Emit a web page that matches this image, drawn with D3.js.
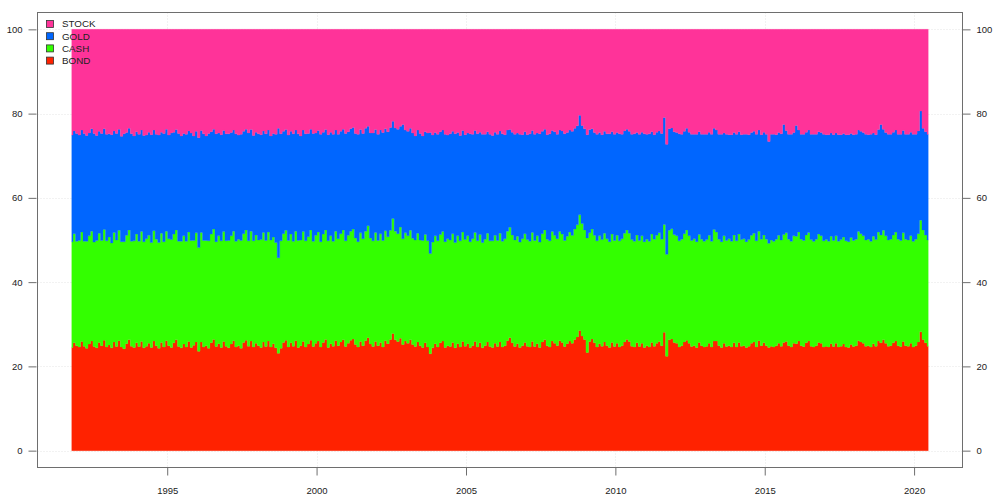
<!DOCTYPE html>
<html>
<head>
<meta charset="utf-8">
<script src="https://cdn.jsdelivr.net/npm/d3@7"></script>
<style>
  html, body { margin: 0; padding: 0; background: #ffffff; }
  svg { display: block; }
  text { font-family: "Liberation Sans", Arial, sans-serif; }
</style>
</head>
<body>
<svg id="chart" width="1000" height="498"></svg>
<script>
// ---- Data: monthly portfolio weights (%) Oct 1991 .. Jun 2020 ----
const seriesNames = ["STOCK", "GOLD", "CASH", "BOND"];
const firstMonth = { year: 1991, month: 9, day: 22 }; // Oct 1991
const yTicks = [0, 20, 40, 60, 80, 100];
const xTickYears = [1995, 2000, 2005, 2010, 2015, 2020];

const bond = [
  24.5, 25.6, 24.9,
  24.6, 25.9, 24.8, 24.3, 25.3, 26.0, 24.7, 24.4, 25.7, 24.9, 26.2, 24.6,
  25.1, 24.4, 25.8, 24.7, 26.1, 24.6, 24.2, 25.4, 26.3, 24.8, 24.5, 25.6,
  24.7, 25.9, 24.4, 24.8, 25.5, 24.5, 26.0, 24.9, 24.3, 25.7, 24.6, 26.1,
  24.9, 24.5, 25.6, 26.3, 24.7, 24.4, 25.3, 24.6, 25.9, 24.5, 25.0, 25.8,
  23.6, 25.8, 24.6, 24.9, 24.3, 25.6, 26.4, 24.7, 25.4, 24.5, 25.9, 24.8,
  24.4, 25.3, 26.1, 24.6, 24.9, 24.3, 25.7, 26.2, 24.8, 26.0, 24.6, 25.5,
  24.9, 24.5, 25.8, 24.7, 26.0, 24.6, 25.4, 24.4, 23.1, 24.3, 25.7, 26.2,
  24.6, 25.6, 24.8, 26.1, 24.5, 24.9, 25.9, 24.6, 25.3, 26.2, 24.7, 25.5,
  26.0, 24.6, 25.7, 26.4, 24.5, 25.4, 24.8, 26.1, 24.9, 25.8, 26.3, 24.7,
  25.5, 26.2, 26.5, 25.2, 24.6, 25.9, 24.9, 26.1, 26.8, 25.3, 24.7, 25.9,
  24.9, 25.7, 24.6, 26.1, 25.4, 26.4, 27.8, 26.3, 25.9, 26.7, 25.2, 26.0,
  25.5, 26.3, 25.2, 24.7, 25.8, 24.9, 24.5, 25.6, 24.6, 23.0, 24.4, 25.4,
  24.6, 25.6, 26.0, 24.5, 24.9, 24.7, 25.7, 24.4, 25.4, 24.6, 25.9, 24.8,
  25.4, 24.5, 24.9, 25.9, 24.6, 25.6, 24.4, 24.9, 25.8, 24.7, 24.5, 25.5,
  24.7, 25.8, 24.6, 24.9, 26.1, 26.8, 25.6, 24.7, 25.4, 24.5, 24.9, 25.7,
  24.8, 24.6, 25.9, 24.7, 25.4, 24.5, 25.8, 26.3, 24.9, 24.6, 26.0, 25.5,
  24.9, 26.1, 25.7, 24.7, 25.4, 26.0, 25.5, 26.4, 27.0, 28.5, 27.2, 26.4,
  23.3, 25.9, 26.5, 25.6, 24.6, 25.4, 24.8, 25.8, 24.9, 24.5, 25.7, 24.7,
  25.5, 24.6, 24.9, 25.8, 26.4, 25.9, 24.8, 24.6, 25.6, 24.7, 25.5, 24.5,
  24.9, 24.6, 25.7, 24.8, 25.5, 25.9, 24.9, 28.1, 22.4, 26.3, 26.5, 25.7,
  25.5, 24.6, 24.9, 25.8, 26.2, 25.5, 24.7, 24.9, 24.5, 25.7, 24.9, 24.6,
  24.8, 25.5, 24.6, 26.0, 26.0, 24.9, 24.5, 25.5, 24.7, 24.9, 24.6, 25.6,
  24.6, 25.7, 24.8, 24.9, 24.5, 24.8, 25.5, 25.8, 24.6, 26.1, 24.9, 25.6,
  24.9, 24.5, 24.8, 24.6, 24.9, 25.5, 24.8, 25.7, 25.9, 24.9, 24.6, 25.5,
  25.4, 26.0, 24.9, 24.7, 25.6, 26.0, 24.8, 24.6, 24.9, 25.7, 25.5, 24.6,
  24.8, 24.6, 25.4, 24.7, 25.5, 24.6, 24.8, 25.3, 24.6, 24.5, 25.2, 24.7,
  24.9, 26.1, 25.8, 25.5, 24.8, 24.9, 24.6, 25.4, 24.8, 26.0, 25.6, 26.3,
  25.5, 24.8, 24.9, 25.6, 26.0, 24.9, 24.7, 25.9, 24.9, 24.8, 25.5, 24.6,
  24.9, 25.8, 28.2, 26.4, 25.6, 24.8
];

const cash = [
  25.1, 25.9, 24.8,
  25.3, 26.0, 24.9, 25.4, 25.7, 26.1, 24.8, 25.5, 25.9, 25.0, 26.3, 25.2,
  25.6, 24.9, 26.0, 25.3, 26.2, 25.0, 25.4, 25.7, 26.1, 24.9, 25.3, 25.8,
  25.0, 26.1, 25.2, 25.5, 25.6, 24.9, 26.2, 25.3, 25.1, 25.9, 25.0, 26.0,
  25.4, 25.6, 25.8, 26.1, 25.0, 25.3, 25.7, 25.1, 26.0, 25.4, 24.9, 25.9,
  24.6, 26.0, 25.3, 25.0, 25.5, 25.8, 26.2, 24.9, 25.6, 25.3, 26.1, 25.0,
  25.5, 25.7, 26.0, 25.1, 25.3, 25.6, 25.8, 26.2, 25.0, 26.1, 25.2, 25.7,
  25.1, 25.6, 26.0, 25.2, 25.9, 25.4, 25.3, 25.0, 22.7, 25.5, 25.8, 26.1,
  25.3, 25.8, 24.9, 26.0, 25.4, 25.1, 26.1, 25.2, 25.5, 26.2, 25.0, 25.6,
  25.9, 25.0, 25.7, 26.0, 25.3, 25.6, 24.9, 26.0, 25.4, 25.7, 26.1, 25.1,
  25.6, 25.9, 26.1, 25.3, 25.0, 25.8, 25.4, 26.0, 26.6, 25.2, 25.1, 25.9,
  25.0, 25.8, 25.3, 26.1, 25.4, 25.9, 27.3, 25.8, 25.6, 26.4, 25.1, 25.7,
  25.5, 26.0, 25.2, 25.3, 25.8, 25.1, 25.4, 25.7, 25.2, 23.8, 25.1, 25.6,
  25.2, 25.7, 26.0, 25.1, 25.4, 25.3, 25.8, 25.0, 25.6, 25.2, 26.0, 25.3,
  25.6, 25.1, 25.4, 25.9, 25.2, 25.7, 25.0, 25.3, 25.8, 25.1, 25.3, 25.6,
  25.2, 25.8, 25.1, 25.4, 26.0, 26.2, 25.6, 25.3, 25.5, 25.0, 25.4, 25.8,
  25.3, 25.1, 25.9, 25.2, 25.6, 25.0, 25.7, 26.1, 25.3, 25.2, 26.0, 25.6,
  25.4, 25.9, 25.7, 25.2, 25.5, 25.9, 25.6, 26.2, 26.6, 27.5, 26.7, 26.0,
  27.2, 25.8, 26.1, 25.5, 25.2, 25.6, 25.3, 25.8, 25.4, 25.1, 25.7, 25.2,
  25.6, 25.2, 25.4, 25.8, 26.0, 25.7, 25.3, 25.1, 25.6, 25.2, 25.5, 25.1,
  25.3, 25.1, 25.7, 25.4, 25.6, 25.8, 25.3, 25.6, 24.2, 26.0, 26.2, 25.6,
  25.5, 25.2, 25.3, 25.7, 26.2, 25.5, 25.2, 25.4, 25.1, 25.6, 25.3, 25.1,
  25.3, 25.6, 25.1, 26.5, 25.9, 25.3, 25.1, 25.5, 25.2, 25.4, 25.1, 25.6,
  25.2, 25.7, 25.3, 25.4, 25.1, 25.3, 25.6, 25.8, 25.2, 26.0, 25.3, 25.6,
  25.3, 24.7, 25.2, 25.1, 25.3, 25.6, 25.2, 25.6, 25.8, 25.3, 25.1, 25.5,
  25.5, 25.9, 25.3, 25.2, 25.6, 25.8, 25.3, 25.1, 25.3, 25.7, 25.5, 25.2,
  25.3, 25.1, 25.5, 25.2, 25.5, 25.1, 25.3, 25.4, 25.2, 25.1, 25.4, 25.2,
  25.3, 25.9, 25.7, 25.5, 25.2, 25.3, 25.1, 25.5, 25.3, 25.9, 25.6, 26.0,
  25.5, 25.2, 25.3, 25.6, 25.9, 25.3, 25.2, 25.8, 25.3, 25.2, 25.5, 25.1,
  25.3, 25.7, 26.5, 26.0, 25.6, 25.2
];

const gold = [
  25.3, 24.4, 25.6,
  25.0, 24.2, 25.6, 25.1, 24.4, 24.3, 25.8, 24.9, 24.2, 25.4, 23.9, 25.3,
  24.5, 25.7, 24.1, 25.3, 24.0, 25.0, 25.6, 24.4, 24.1, 25.5, 24.9, 24.3,
  25.4, 24.1, 25.2, 24.6, 24.5, 25.6, 23.9, 24.9, 25.5, 24.0, 25.7, 24.2,
  24.6, 25.3, 24.2, 23.8, 25.6, 25.0, 24.3, 25.4, 24.0, 25.5, 24.8, 24.1,
  26.1, 24.2, 25.3, 24.8, 25.5, 24.3, 23.7, 25.6, 24.4, 25.2, 24.0, 25.4,
  25.3, 24.5, 24.0, 25.5, 24.7, 25.2, 24.3, 23.9, 25.6, 24.1, 25.0, 24.4,
  25.2, 24.9, 24.1, 25.3, 24.2, 24.7, 24.6, 25.7, 30.7, 25.4, 24.3, 23.9,
  25.0, 24.4, 25.5, 24.0, 25.3, 24.7, 24.1, 25.4, 24.5, 23.9, 25.6, 24.3,
  24.1, 25.5, 24.2, 23.8, 25.2, 24.6, 25.4, 24.0, 24.8, 24.3, 23.9, 25.5,
  24.6, 24.3, 24.1, 24.8, 25.5, 24.5, 25.0, 24.4, 23.6, 24.9, 25.6, 24.4,
  25.2, 24.6, 25.6, 24.2, 24.9, 24.4, 23.1, 24.5, 24.8, 23.9, 27.1, 24.4,
  24.8, 24.2, 25.0, 24.7, 24.5, 25.3, 24.8, 24.4, 25.6, 28.7, 25.4, 24.5,
  25.3, 24.4, 24.1, 25.5, 24.6, 25.2, 24.3, 25.8, 24.5, 25.0, 24.1, 24.9,
  24.4, 25.6, 24.8, 24.2, 25.4, 24.3, 25.7, 24.9, 24.1, 25.3, 25.0, 24.5,
  25.2, 24.3, 25.5, 24.7, 24.0, 23.2, 24.4, 25.1, 24.5, 25.6, 24.7, 24.2,
  24.9, 25.5, 24.2, 25.2, 24.4, 25.7, 24.3, 23.9, 24.8, 25.4, 24.0, 24.6,
  24.8, 24.1, 24.5, 25.3, 24.6, 24.2, 24.7, 23.9, 23.5, 23.6, 23.3, 24.0,
  24.5, 24.5, 23.8, 24.4, 25.3, 24.5, 24.9, 24.2, 24.9, 25.6, 24.3, 25.2,
  24.4, 25.4, 24.8, 24.3, 23.9, 24.2, 25.0, 25.5, 24.3, 25.2, 24.6, 25.6,
  24.9, 25.5, 24.3, 24.8, 24.5, 24.2, 25.1, 25.4, 26.1, 24.1, 23.9, 24.4,
  24.5, 25.4, 24.9, 24.3, 24.1, 24.6, 25.2, 24.8, 25.5, 24.4, 24.9, 25.4,
  25.0, 24.5, 25.4, 24.0, 24.2, 24.9, 25.5, 24.4, 25.2, 24.7, 25.3, 24.3,
  25.3, 24.3, 24.9, 24.8, 25.5, 24.9, 24.4, 24.2, 25.3, 24.0, 24.8, 24.4,
  24.9, 24.2, 25.1, 25.4, 24.8, 24.4, 25.2, 26.1, 24.3, 24.9, 25.4, 24.5,
  26.3, 24.2, 24.9, 25.2, 24.4, 24.3, 25.0, 25.4, 24.9, 24.3, 24.5, 25.3,
  24.9, 25.3, 24.5, 25.1, 24.4, 25.3, 24.9, 24.6, 25.2, 25.4, 24.7, 25.1,
  24.9, 24.1, 24.3, 24.5, 25.1, 24.8, 25.4, 24.5, 24.9, 24.3, 26.2, 24.0,
  24.5, 25.1, 24.9, 24.4, 24.2, 24.9, 25.2, 24.3, 24.9, 25.1, 24.6, 25.4,
  24.9, 24.4, 25.9, 24.1, 24.5, 25.1
];

const colors = { STOCK: "#ff3399", GOLD: "#0066ff", CASH: "#33ff00", BOND: "#ff2200" };

// ---- Build table (stock weight is the remainder so weights sum to 100%) ----
const rows = bond.map((b, i) => ({
  date: new Date(firstMonth.year, firstMonth.month + i, firstMonth.day),
  BOND: b,
  CASH: cash[i],
  GOLD: gold[i],
  STOCK: 100 - b - cash[i] - gold[i]
}));

const svg = d3.select("#chart");
const L = 37.5, R = 962.5, T = 12.5, B = 467.5;

const ext = d3.extent(rows, d => d.date);
const pad = (ext[1] - ext[0]) * 0.04;
const x = d3.scaleTime()
  .domain([new Date(+ext[0] - pad), new Date(+ext[1] + pad)])
  .range([L, R]);
const y = d3.scaleLinear().domain([-4, 104]).range([B, T]);

const gridColor = "#e4e4e4";
const axisColor = "#6e6e6e";

// gridlines
const xTickDates = xTickYears.map(yr => new Date(yr, 0, 1));
svg.append("g").selectAll("line").data(yTicks).join("line")
  .attr("x1", L).attr("x2", R)
  .attr("y1", d => Math.round(y(d)) + 0.5).attr("y2", d => Math.round(y(d)) + 0.5)
  .attr("stroke", gridColor).attr("stroke-dasharray", "1,2");
svg.append("g").selectAll("line").data(xTickDates).join("line")
  .attr("y1", T).attr("y2", B)
  .attr("x1", d => Math.round(x(d)) + 0.5).attr("x2", d => Math.round(x(d)) + 0.5)
  .attr("stroke", gridColor).attr("stroke-dasharray", "1,2");

// stacked areas
const keys = ["BOND", "CASH", "GOLD", "STOCK"];
const stacked = d3.stack().keys(keys)(rows);
const area = d3.area()
  .x(d => x(d.data.date))
  .y0(d => y(d[0]))
  .y1(d => y(d[1]))
  .curve(d3.curveStep);
svg.append("g").selectAll("path").data(stacked).join("path")
  .attr("d", area)
  .attr("fill", d => colors[d.key])
  .attr("stroke", d => colors[d.key])
  .attr("stroke-width", 0.3);

// box
svg.append("rect")
  .attr("x", L).attr("y", T).attr("width", R - L).attr("height", B - T)
  .attr("fill", "none").attr("stroke", axisColor).attr("stroke-width", 1);

// axes
const fs = "9.5px";
const axL = svg.append("g").attr("transform", `translate(${L - 1},0)`)
  .call(d3.axisLeft(y).tickValues(yTicks).tickSize(8).tickPadding(6));
const axR = svg.append("g").attr("transform", `translate(${R},0)`)
  .call(d3.axisRight(y).tickValues(yTicks).tickSize(8).tickPadding(6));
const axB = svg.append("g").attr("transform", `translate(0,${B})`)
  .call(d3.axisBottom(x).tickValues(xTickDates).tickFormat(d3.timeFormat("%Y")).tickSize(8).tickPadding(12));
[axL, axR, axB].forEach(g => {
  g.select(".domain").remove();
  g.selectAll(".tick line").attr("stroke", axisColor);
  g.selectAll(".tick text").attr("fill", "#222").style("font-size", fs)
    .style("font-family", '"Liberation Sans", Arial, sans-serif');
});

// legend (top-left inside panel)
const legendOrder = ["STOCK", "GOLD", "CASH", "BOND"];
const lg = svg.append("g").selectAll("g").data(legendOrder).join("g")
  .attr("transform", (d, i) => `translate(46,${24 + i * 12.2})`);
lg.append("rect").attr("x", 0.5).attr("y", -3.5).attr("width", 7).attr("height", 7)
  .attr("fill", d => colors[d]).attr("stroke", "#333").attr("stroke-width", 0.8);
lg.append("text").attr("x", 16).attr("y", 0).attr("dy", "0.35em")
  .style("font-size", "9.8px").attr("fill", "#222").text(d => d);
</script>
</body>
</html>
